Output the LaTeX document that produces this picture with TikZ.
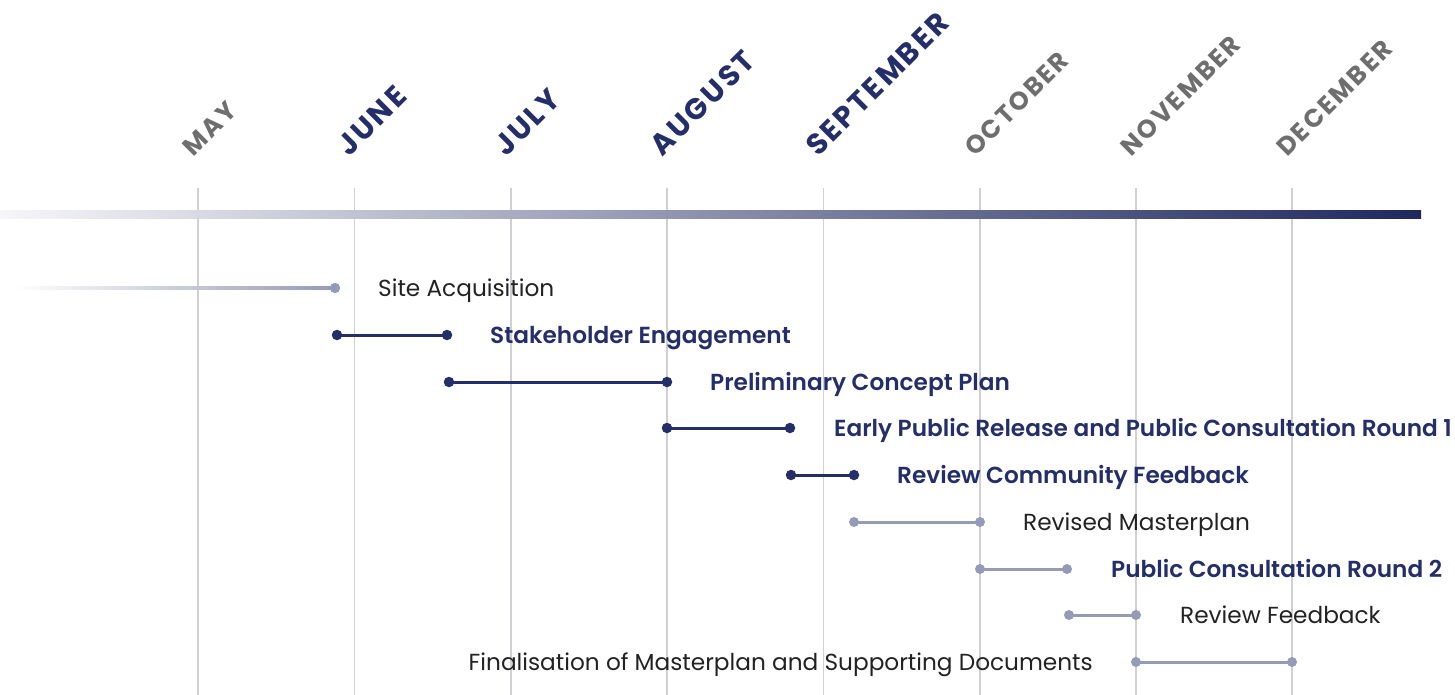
\documentclass[tikz,border=0pt]{standalone}
\usepackage{fontspec}
\setmainfont{Poppins}[BoldFont={Poppins SemiBold}]
\newfontfamily\monthfont[LetterSpace=9]{Poppins}
\usetikzlibrary{calc}
\definecolor{navy}{HTML}{242E68}
\definecolor{soft}{HTML}{959AB6}
\definecolor{gridgray}{HTML}{CFCFD6}
\definecolor{monthgray}{HTML}{6E6E6E}
\definecolor{ink}{HTML}{222222}
\definecolor{barstart}{HTML}{F6F6F9}
\definecolor{barend}{HTML}{1F285E}
\tikzset{
  gridline/.style={gridgray, line width=1.3bp},
  darkbar/.style={navy, line width=3bp},
  lightbar/.style={soft, line width=3bp},
  darkdot/.style={circle, fill=navy, inner sep=0pt, minimum size=10.5bp},
  lightdot/.style={circle, fill=soft, inner sep=0pt, minimum size=10bp},
  monthkey/.style={rotate=45, anchor=base west, inner sep=0pt, text=navy,
    font=\monthfont\bfseries\fontsize{29.5}{34}\selectfont},
  monthplain/.style={rotate=45, anchor=base west, inner sep=0pt, text=monthgray,
    font=\monthfont\bfseries\fontsize{25.5}{29}\selectfont},
  tasklabel/.style={anchor=base west, inner sep=0pt, text=ink,
    font=\fontsize{23.3}{27}\selectfont},
  taskkey/.style={anchor=base west, inner sep=0pt, text=navy,
    font=\bfseries\fontsize{23.3}{27}\selectfont},
}
\begin{document}
\begin{tikzpicture}[x=1bp, y=-1bp]
\useasboundingbox (0,0) rectangle (1455,695);

% month grid lines
\foreach \gx in {198,354.5,511,667,823.5,980,1136,1292}
  \draw[gridline] (\gx,188) -- (\gx,695);

% main time bar
\shade[left color=barstart, right color=barend] (0,210) rectangle (1421,218.5);

% month labels
\node[monthplain] (may) at (193,158) {MAY};
\node[monthkey]   (jun) at (349,158) {JUNE};
\node[monthkey]   (jul) at (506,158) {JULY};
\node[monthkey]   (aug) at (662,158) {AUGUST};
\node[monthkey]   (sep) at (818,158) {SEPTEMBER};
\node[monthplain] (oct) at (975,158) {OCTOBER};
\node[monthplain] (nov) at (1131,158) {NOVEMBER};
\node[monthplain] (dec) at (1287,158) {DECEMBER};

% Site Acquisition: fading lead-in
\coordinate (sa0) at (15,288);
\node[lightdot] (sa1) at (335,288) {};
\shade[left color=white, right color=soft] ($(sa0)+(0,-1.5)$) rectangle ($(sa1.center)+(0,1.5)$);
\node[lightdot] at (sa1) {};
\node[tasklabel] (sat) at (378,296) {Site Acquisition};

% Stakeholder Engagement
\node[darkdot] (se0) at (337,335) {};
\node[darkdot] (se1) at (447,335) {};
\draw[darkbar] (se0.center) -- (se1.center);
\node[taskkey] (set) at (490,343) {Stakeholder Engagement};

% Preliminary Concept Plan
\node[darkdot] (pc0) at (449,382) {};
\node[darkdot] (pc1) at (667,382) {};
\draw[darkbar] (pc0.center) -- (pc1.center);
\node[taskkey] (pct) at (710,390) {Preliminary Concept Plan};

% Early Public Release
\node[darkdot] (ep0) at (667,428) {};
\node[darkdot] (ep1) at (790,428) {};
\draw[darkbar] (ep0.center) -- (ep1.center);
\node[taskkey] (ept) at (834,436) {Early Public Release and Public Consultation Round 1};

% Review Community Feedback
\node[darkdot] (rc0) at (791,475) {};
\node[darkdot] (rc1) at (854,475) {};
\draw[darkbar] (rc0.center) -- (rc1.center);
\node[taskkey] (rct) at (897,483) {Review Community Feedback};

% Revised Masterplan
\node[lightdot] (rm0) at (854,522) {};
\node[lightdot] (rm1) at (980,522) {};
\draw[lightbar] (rm0.center) -- (rm1.center);
\node[tasklabel] (rmt) at (1023,530) {Revised Masterplan};

% Public Consultation Round 2
\node[lightdot] (pr0) at (980,569) {};
\node[lightdot] (pr1) at (1067,569) {};
\draw[lightbar] (pr0.center) -- (pr1.center);
\node[taskkey] (prt) at (1111,577) {Public Consultation Round 2};

% Review Feedback
\node[lightdot] (rf0) at (1069,615) {};
\node[lightdot] (rf1) at (1136,615) {};
\draw[lightbar] (rf0.center) -- (rf1.center);
\node[tasklabel] (rft) at (1180,623) {Review Feedback};

% Finalisation
\node[lightdot] (fm0) at (1136,662) {};
\node[lightdot] (fm1) at (1292,662) {};
\draw[lightbar] (fm0.center) -- (fm1.center);
\node[tasklabel, anchor=base east] (fmt) at (1093,670) {Finalisation of Masterplan and Supporting Documents};
\end{tikzpicture}
\end{document}
